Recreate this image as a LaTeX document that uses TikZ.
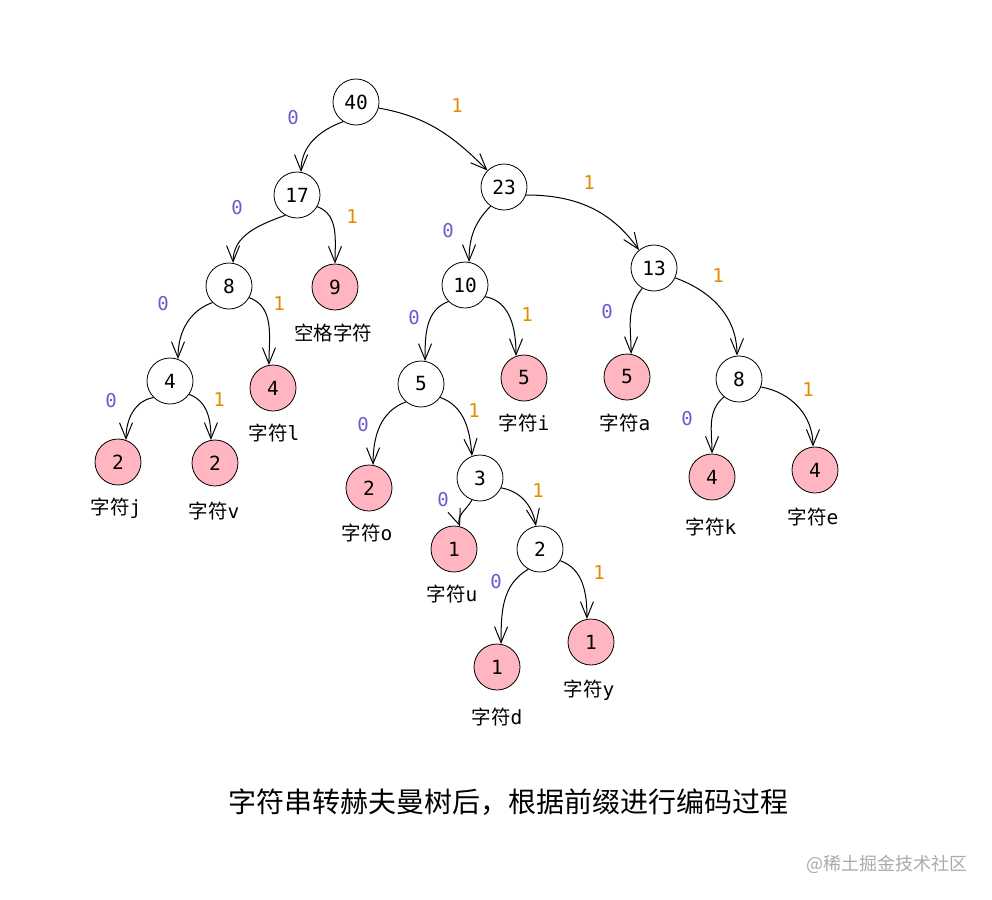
\documentclass[tikz,border=0pt]{standalone}
\usepackage{fontspec}
\setmonofont{DejaVu Sans Mono}
\newfontfamily\cjk{Noto Sans CJK SC}
\usetikzlibrary{arrows.meta}
\definecolor{leafpink}{RGB}{255,182,193}
\definecolor{zeroc}{RGB}{106,90,205}
\definecolor{onec}{RGB}{226,138,0}
\definecolor{wmgrey}{RGB}{170,170,170}
\newcommand\myzf[1]{{\cjk 字符}{\ttfamily #1}}
\begin{document}
\begin{tikzpicture}[x=1pt,y=1pt,
 innode/.style={circle,draw,line width=0.8pt,minimum size=46pt,inner sep=0pt,font=\ttfamily\fontsize{19.5}{19.5}\selectfont},
 leaf/.style={innode,fill=leafpink},
 lab/.style={font=\fontsize{19.5}{19.5}\selectfont},
 zl/.style={text=zeroc,font=\ttfamily\fontsize{19}{19}\selectfont},
 ol/.style={text=onec,font=\ttfamily\fontsize{19}{19}\selectfont},
 edg/.style={-{Straight Barb[length=16pt,width=13pt]},line width=1pt}
]
\useasboundingbox (0,0) rectangle (992,-899);
% nodes
\node[innode] (n40) at (356,-102) {40};
\node[innode] (n17) at (297,-195) {17};
\node[innode] (n23) at (504,-187) {23};
\node[innode] (n8a) at (229,-286) {8};
\node[leaf] (n9) at (335,-287) {9};
\node[innode] (n10) at (465,-285) {10};
\node[innode] (n13) at (654,-268) {13};
\node[innode] (n4a) at (170,-381) {4};
\node[leaf] (n4l) at (273,-388) {4};
\node[innode] (n5a) at (421,-384) {5};
\node[leaf] (n5i) at (524,-378) {5};
\node[leaf] (n5x) at (627,-377) {5};
\node[innode] (n8b) at (739,-379) {8};
\node[leaf] (n2j) at (118,-462) {2};
\node[leaf] (n2v) at (215,-463) {2};
\node[leaf] (n2o) at (369,-488) {2};
\node[innode] (n3) at (480,-478) {3};
\node[leaf] (n1u) at (454,-549) {1};
\node[innode] (n2b) at (540,-549) {2};
\node[leaf] (n1d) at (497,-667) {1};
\node[leaf] (n1y) at (591,-642) {1};
\node[leaf] (n4k) at (712,-477) {4};
\node[leaf] (n4e) at (815,-470) {4};
% leaf labels
\node[lab] (l9) at (333,-333) {\cjk 空格字符};
\node[lab] (l4l) at (274,-433) {\myzf{l}};
\node[lab] (l5i) at (524,-423) {\myzf{i}};
\node[lab] (l5x) at (625,-423) {\myzf{a}};
\node[lab] (l2j) at (116,-508) {\myzf{j}};
\node[lab] (l2v) at (214,-511) {\myzf{v}};
\node[lab] (l2o) at (367,-533) {\myzf{o}};
\node[lab] (l1u) at (452,-594) {\myzf{u}};
\node[lab] (l1d) at (497,-717) {\myzf{d}};
\node[lab] (l1y) at (589,-690) {\myzf{y}};
\node[lab] (l4k) at (711,-527) {\myzf{k}};
\node[lab] (l4e) at (813,-517) {\myzf{e}};
% edge labels
\node[zl] (e1) at (293,-118) {0};
\node[ol] (e2) at (457,-106) {1};
\node[zl] (e3) at (237,-208) {0};
\node[ol] (e4) at (352,-217) {1};
\node[zl] (e5) at (448,-231) {0};
\node[ol] (e6) at (589,-183) {1};
\node[zl] (e7) at (163,-304) {0};
\node[ol] (e8) at (279,-304) {1};
\node[zl] (e9) at (414,-318) {0};
\node[ol] (e10) at (527,-315) {1};
\node[zl] (e11) at (607,-312) {0};
\node[ol] (e12) at (718,-276) {1};
\node[zl] (e13) at (111,-401) {0};
\node[ol] (e14) at (219,-400) {1};
\node[zl] (e15) at (363,-425) {0};
\node[ol] (e16) at (474,-411) {1};
\node[zl] (e17) at (443,-500) {0};
\node[ol] (e18) at (538,-491) {1};
\node[zl] (e19) at (496,-582) {0};
\node[ol] (e20) at (599,-573) {1};
\node[zl] (e21) at (687,-419) {0};
\node[ol] (e22) at (808,-390) {1};
% edges
\draw[edg] (n40.237) to[out=200,in=90] (n17.80);
\draw[edg] (n40.345) to[out=-10,in=135] (n23.135);
\draw[edg] (n17.240) to[out=200,in=90] (n8a.80);
\draw[edg] (n17.330) to[out=-20,in=90] (n9.90);
\draw[edg] (n23.235) to[out=225,in=90] (n10.80);
\draw[edg] (n23.340) to[out=0,in=125] (n13.130);
\draw[edg] (n8a.225) to[out=200,in=90] (n4a.70);
\draw[edg] (n8a.330) to[out=-20,in=90] (n4l.100);
\draw[edg] (n10.225) to[out=200,in=90] (n5a.80);
\draw[edg] (n10.330) to[out=-10,in=90] (n5i.110);
\draw[edg] (n13.240) to[out=230,in=90] (n5x.80);
\draw[edg] (n13.335) to[out=-20,in=90] (n8b.95);
\draw[edg] (n4a.225) to[out=190,in=90] (n2j.70);
\draw[edg] (n4a.325) to[out=-20,in=90] (n2v.100);
\draw[edg] (n5a.230) to[out=200,in=90] (n2o.80);
\draw[edg] (n5a.325) to[out=-20,in=95] (n3.110);
\draw[edg] (n3.250) to[out=240,in=110] (n1u.75);
\draw[edg] (n3.335) to[out=-10,in=100] (n2b.100);
\draw[edg] (n2b.240) to[out=210,in=90] (n1d.80);
\draw[edg] (n2b.330) to[out=-20,in=90] (n1y.100);
\draw[edg] (n8b.230) to[out=220,in=90] (n4k.90);
\draw[edg] (n8b.340) to[out=-10,in=90] (n4e.95);
% caption
\node[font=\cjk\fontsize{28}{28}\selectfont] (cap) at (508,-802) {字符串转赫夫曼树后，根据前缀进行编码过程};
\node[font=\cjk\fontsize{18}{18}\selectfont,text=wmgrey] (wm) at (887,-864) {@稀土掘金技术社区};
\end{tikzpicture}
\end{document}
